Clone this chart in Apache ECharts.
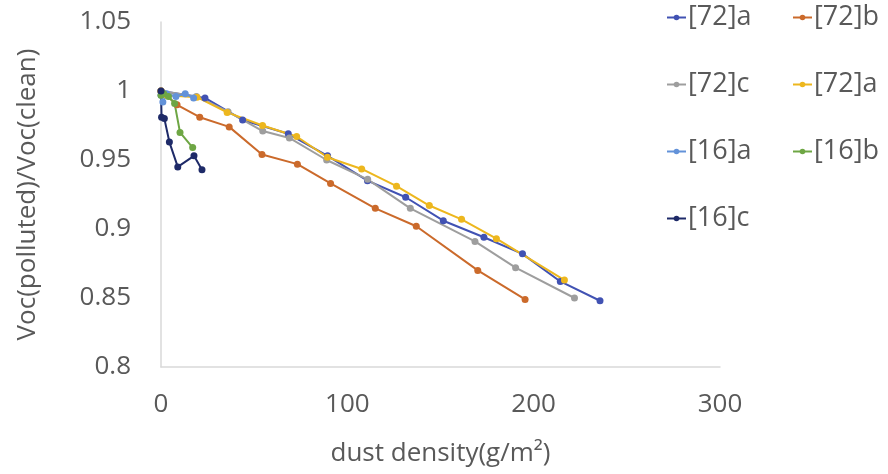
<!DOCTYPE html>
<html>
<head>
<meta charset="utf-8">
<script src="https://cdn.jsdelivr.net/npm/echarts@6/dist/echarts.min.js"></script>
<style>html,body{margin:0;padding:0;background:#fff}#c{width:888px;height:474px}</style>
</head>
<body>
<div id="c"></div>
<script>
// Series names (legend labels)
const seriesNames = ['[72]a', '[72]b', '[72]c', '[72]a', '[16]a', '[16]b', '[16]c'];
const xTicks = [0, 100, 200, 300];
const yTicks = [0.8, 0.85, 0.9, 0.95, 1, 1.05];

// dust density (g/m2) and Voc ratio per series
const dust72a = [0, 23.6, 43.8, 68.3, 89.4, 110.8, 131.3, 151.5, 173.3, 194, 214.3, 235.6];
const voc72a  = [1.0, 0.995, 0.979, 0.969, 0.953, 0.935, 0.923, 0.906, 0.894, 0.882, 0.862, 0.848];

const dust72b = [0, 8.6, 20.8, 36.6, 54.2, 73.2, 91, 115, 137, 170, 195.4];
const voc72b  = [1.0, 0.990, 0.981, 0.974, 0.954, 0.947, 0.933, 0.915, 0.902, 0.870, 0.849];

const dust72c = [0, 19, 36, 54.6, 68.9, 88.9, 110.9, 133.8, 168.5, 190.3, 221.9];
const voc72c  = [1.0, 0.996, 0.985, 0.971, 0.966, 0.950, 0.936, 0.915, 0.891, 0.872, 0.850];

const dust72a2 = [0, 3, 19.3, 35.5, 54.5, 72.8, 89.3, 107.7, 126.4, 144, 161.3, 180, 216.5];
const voc72a2  = [1.0, 0.997, 0.9955, 0.9845, 0.975, 0.967, 0.952, 0.9435, 0.931, 0.917, 0.907, 0.893, 0.863];

const dust16a = [0, 1, 3, 8, 13, 17.5];
const voc16a  = [0.997, 0.992, 0.998, 0.996, 0.998, 0.995];

const dust16b = [0, 1.5, 4, 7.3, 10.2, 17];
const voc16b  = [0.997, 0.998, 0.996, 0.991, 0.970, 0.959];

const dust16c = [0, 0.3, 1.8, 4.5, 9, 17.7, 22];
const voc16c  = [1.0, 0.981, 0.980, 0.963, 0.945, 0.953, 0.943];

const xs = [dust72a, dust72b, dust72c, dust72a2, dust16a, dust16b, dust16c];
const ys = [voc72a, voc72b, voc72c, voc72a2, voc16a, voc16b, voc16c];
const colors = ['#4152B3', '#CB6A2B', '#9E9E9E', '#EDB71E', '#6392D9', '#6EA644', '#1E2A68'];

const FONT = '"Open Sans", "Liberation Sans", sans-serif';
const TXT = '#595959';

// unique internal names (second "[72]a" gets a trailing space, trimmed in the legend)
const ids = seriesNames.map((n, i) => (seriesNames.indexOf(n) !== i ? n + ' ' : n));

const series = ids.map((id, i) => ({
  name: id,
  type: 'line',
  data: xs[i].map((x, j) => [x, ys[i][j]]),
  symbol: 'circle',
  symbolSize: 7,
  showSymbol: true,
  lineStyle: { width: 2, color: colors[i] },
  itemStyle: { color: colors[i] },
  emphasis: { disabled: true },
  animation: false
}));

const legendPos = [
  [666, 4], [792, 4],
  [666, 71], [792, 71],
  [666, 138], [792, 138],
  [666, 205]
];
const legends = ids.map((id, i) => ({
  data: [id],
  left: legendPos[i][0],
  top: legendPos[i][1],
  orient: 'horizontal',
  itemWidth: 19,
  itemHeight: 7,
  itemGap: 0,
  padding: 0,
  selectedMode: false,
  formatter: n => n.trim(),
  textStyle: { fontFamily: FONT, fontSize: 27, color: TXT, padding: [0, 0, 0, -3] }
}));

const chart = echarts.init(document.getElementById('c'), null, { renderer: 'canvas' });
chart.setOption({
  animation: false,
  backgroundColor: '#ffffff',
  color: colors,
  legend: legends,
  grid: { left: 161, right: 168, top: 22, bottom: 107, containLabel: false },
  xAxis: {
    type: 'value',
    min: xTicks[0],
    max: xTicks[xTicks.length - 1],
    interval: xTicks[1] - xTicks[0],
    name: 'dust density(g/m²)',
    nameLocation: 'middle',
    nameGap: 74,
    nameTextStyle: { fontFamily: FONT, fontSize: 26, color: TXT },
    axisLine: { show: true, onZero: false, lineStyle: { color: '#D9D9D9', width: 1.5 } },
    axisTick: { show: false },
    splitLine: { show: false },
    axisLabel: { fontFamily: FONT, fontSize: 26, color: TXT, margin: 25 }
  },
  yAxis: {
    type: 'value',
    min: yTicks[0],
    max: yTicks[yTicks.length - 1],
    interval: 0.05,
    name: 'Voc(polluted)/Voc(clean)',
    nameLocation: 'middle',
    nameGap: 120,
    nameTextStyle: { fontFamily: FONT, fontSize: 26, color: TXT },
    axisLine: { show: true, lineStyle: { color: '#D9D9D9', width: 1.5 } },
    axisTick: { show: false },
    splitLine: { show: false },
    axisLabel: { fontFamily: FONT, fontSize: 26, color: TXT, margin: 30 }
  },
  series: series
});
</script>
</body>
</html>
